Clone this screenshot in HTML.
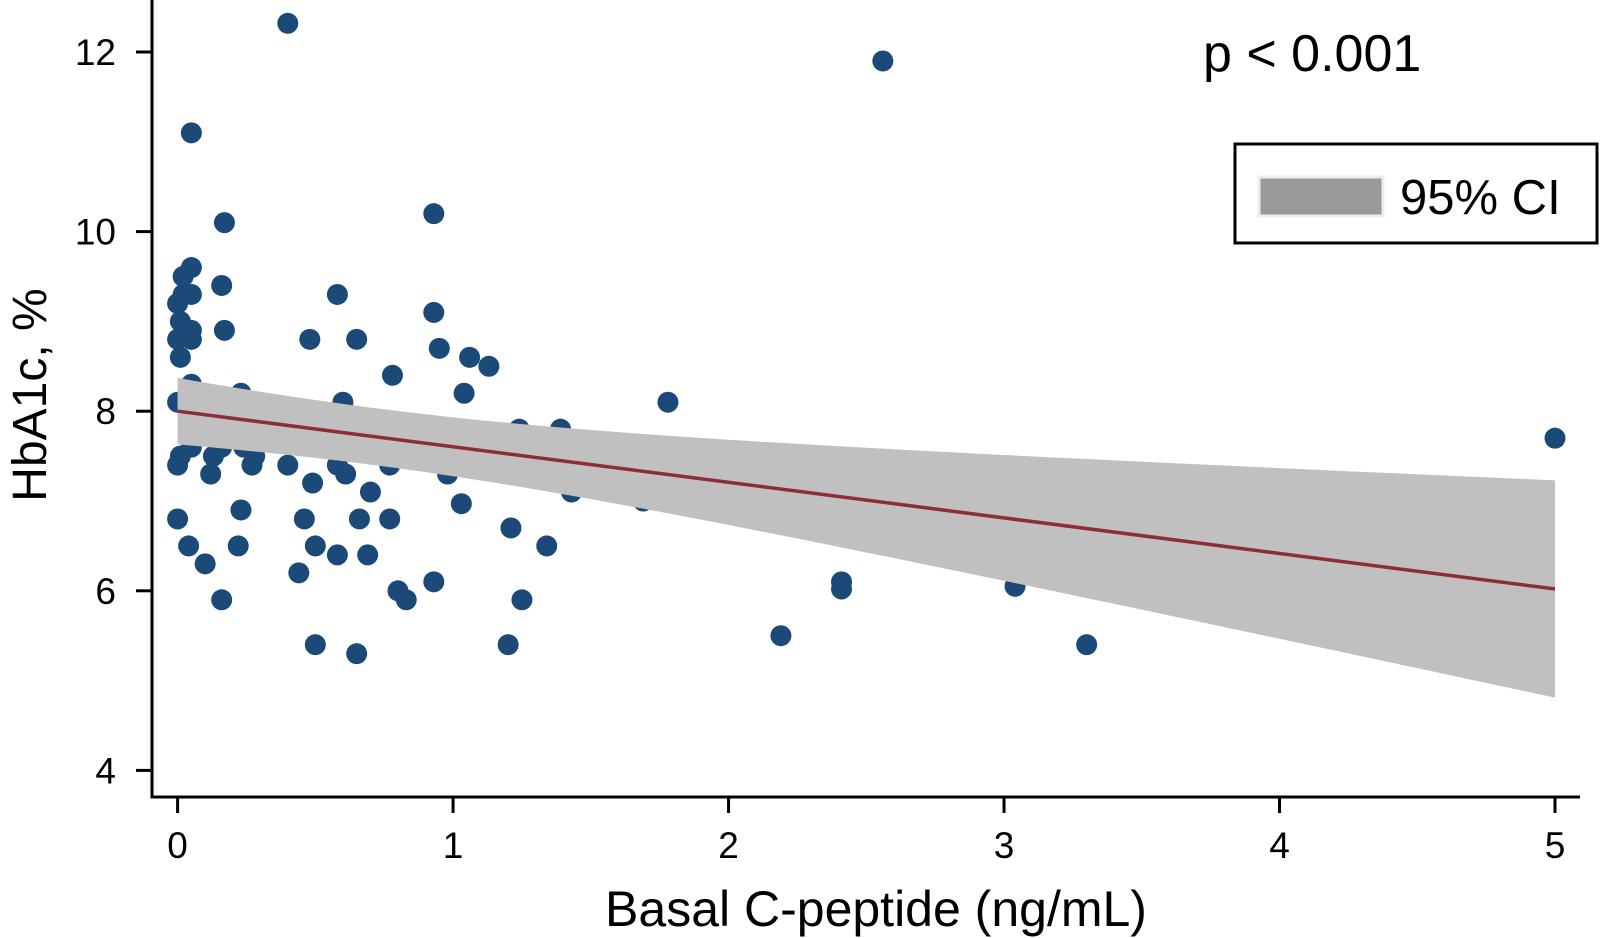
<!DOCTYPE html>
<html><head><meta charset="utf-8"><style>
html,body{margin:0;padding:0;background:#fff;}
svg{display:block;font-family:"Liberation Sans",Arial,sans-serif;}
</style></head><body>
<svg id="chart" width="1600" height="938" viewBox="0 0 1600 938" xmlns="http://www.w3.org/2000/svg">
<g id="points"></g>
<g id="band"></g>
<g id="axes"></g>
<text x="1203" y="71" font-size="52" fill="#000">p &lt; 0.001</text>
<g>
<rect x="1235" y="144" width="362" height="99" fill="#fff" stroke="#000" stroke-width="3"/>
<rect x="1259" y="177" width="124" height="39" fill="#999" stroke="#eeeee6" stroke-width="3"/>
<text x="1400" y="214" font-size="49" fill="#000">95% CI</text>
</g>
<text x="876" y="926" font-size="50" text-anchor="middle" fill="#000">Basal C-peptide (ng/mL)</text>
<text transform="translate(46,395) rotate(-90)" font-size="48" text-anchor="middle" fill="#000">HbA1c, %</text>
</svg>
<script>
const xs = [0.40,2.56,0.05,0.17,0.93,0.05,0.02,0.16,0,0.02,0.05,0.01,0.05,0.05,0.17,0,0.01,0.58,0.93,0.48,0.65,0.95,1.06,1.13,0.78,1.04,0.05,0.23,0.60,1.78,0,1.24,1.39,5.0,0.01,0,0.05,0.13,0.16,0.24,0.27,0.28,0.40,0.12,0.58,0.61,0.77,0.98,0.49,0.70,1.43,1.69,1.03,0.23,0,0.46,0.66,0.77,1.21,0.22,0.04,0.50,1.34,0.10,0.69,0.58,0.44,0.93,0.80,0.83,0.16,1.25,2.41,2.41,3.04,2.19,3.30,0.50,1.20,0.65];
const ys = [12.32,11.9,11.1,10.1,10.2,9.6,9.5,9.4,9.2,9.3,9.3,9.0,8.9,8.8,8.9,8.8,8.6,9.3,9.1,8.8,8.8,8.7,8.6,8.5,8.4,8.2,8.3,8.2,8.1,8.1,8.1,7.8,7.8,7.7,7.5,7.4,7.6,7.5,7.6,7.6,7.4,7.5,7.4,7.3,7.4,7.3,7.4,7.3,7.2,7.1,7.1,7.0,6.97,6.9,6.8,6.8,6.8,6.8,6.7,6.5,6.5,6.5,6.5,6.3,6.4,6.4,6.2,6.1,6.0,5.9,5.9,5.9,6.1,6.02,6.05,5.5,5.4,5.4,5.4,5.3];
const fitEnds = [8.0, 6.02];
const ciHalf = [0.37, 1.21];
const ciCenter = [0.7];
const xTicks = [0,1,2,3,4,5];
const yTicks = [4,6,8,10,12];

const NS="http://www.w3.org/2000/svg";
const X = v => 177.6 + v*(1555-177.6)/5;
const Y = v => 770.4 - (v-4)*(770.4-52)/8;
function mk(tag, attrs, parent){const e=document.createElementNS(NS,tag);for(const k in attrs)e.setAttribute(k,attrs[k]);parent.appendChild(e);return e;}

const pg=document.getElementById('points');
xs.forEach((x,i)=>{
  const c=mk('circle',{cx:X(x),cy:Y(ys[i]),r:10.5,fill:'#1b4a78'},pg);
  
  
});

const m=ciCenter[0];
const B=(ciHalf[1]**2-ciHalf[0]**2)/((5-m)**2-(0-m)**2);
const A=ciHalf[0]**2-B*m*m;
const fit=x=>fitEnds[0]+(fitEnds[1]-fitEnds[0])*x/5;
const hw=x=>Math.sqrt(A+B*(x-m)**2);
let up=[],lo=[];
for(let i=0;i<=50;i++){const x=5*i/50;up.push(X(x)+','+Y(fit(x)+hw(x)));lo.push(X(x)+','+Y(fit(x)-hw(x)));}
const bg=document.getElementById('band');
const band=mk('polygon',{points:up.concat(lo.reverse()).join(' '),fill:'#c0c0c0'},bg);


const ln=mk('line',{x1:X(0),y1:Y(fit(0)),x2:X(5),y2:Y(fit(5)),stroke:'#8e2d35','stroke-width':3.5},bg);



const ag=document.getElementById('axes');
const ya=mk('line',{x1:152,y1:0,x2:152,y2:798.5,stroke:'#000','stroke-width':3},ag);


const xa=mk('line',{x1:150.5,y1:797,x2:1580,y2:797,stroke:'#000','stroke-width':3},ag);


yTicks.forEach(t=>{
  const tk=mk('line',{x1:136,y1:Y(t),x2:152,y2:Y(t),stroke:'#000','stroke-width':3},ag);
  
  
  const tx=mk('text',{x:116,y:Y(t)+13,'font-size':37,'text-anchor':'end',fill:'#000'},ag);
  tx.textContent=t;
  
  
});
xTicks.forEach(t=>{
  const tk=mk('line',{x1:X(t),y1:797,x2:X(t),y2:813,stroke:'#000','stroke-width':3},ag);
  
  
  const tx=mk('text',{x:X(t),y:858,'font-size':37,'text-anchor':'middle',fill:'#000'},ag);
  tx.textContent=t;
  
  
});
</script>
</body></html>
